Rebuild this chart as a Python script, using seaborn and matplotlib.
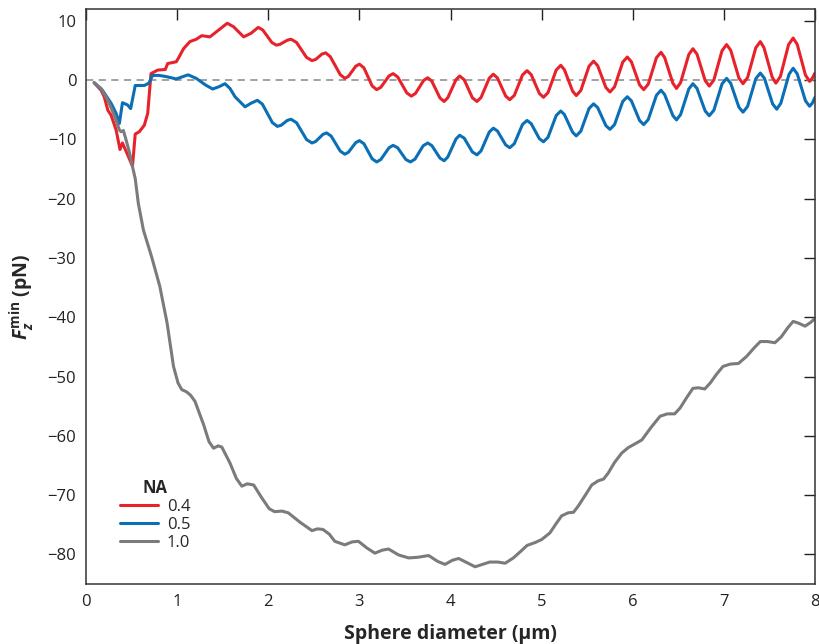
import matplotlib
matplotlib.use("Agg")
import matplotlib.pyplot as plt
import seaborn as sns
import pandas as pd

# ---- data ----
na_labels = ["0.4", "0.5", "1.0"]
colors = ["#e8222b", "#0b6fb5", "#7b7b7d"]

red_x = [0.09, 0.165, 0.20, 0.24, 0.275, 0.33, 0.373, 0.40, 0.457, 0.51, 0.54, 0.585, 0.64, 0.677, 0.695, 0.713,
         0.787, 0.87, 0.896, 0.99, 1.01, 1.07, 1.14, 1.21, 1.27, 1.36, 1.45, 1.55, 1.62, 1.73, 1.81, 1.89,
         1.94, 1.99, 2.04, 2.09, 2.13, 2.17, 2.21, 2.25, 2.31, 2.365, 2.42, 2.48, 2.52, 2.555, 2.59,
         2.63, 2.68, 2.735, 2.79, 2.84, 2.88, 2.92, 2.96, 3.00, 3.05, 3.095, 3.14, 3.19, 3.235, 3.28, 3.325,
         3.37, 3.42, 3.47, 3.52, 3.57, 3.615, 3.66, 3.705, 3.75, 3.795, 3.84, 3.885, 3.93, 3.97, 4.015, 4.06,
         4.10, 4.15, 4.195, 4.24, 4.29, 4.335, 4.38, 4.425, 4.47, 4.515, 4.56, 4.605, 4.65, 4.70, 4.745, 4.79,
         4.84, 4.885, 4.93, 4.975, 5.02, 5.07, 5.115, 5.16, 5.21, 5.25, 5.295, 5.34, 5.38, 5.43, 5.475, 5.52,
         5.57, 5.615, 5.66, 5.705, 5.75, 5.80, 5.845, 5.89, 5.94, 5.985, 6.03, 6.075, 6.12, 6.17, 6.215, 6.26,
         6.31, 6.35, 6.395, 6.44, 6.48, 6.525, 6.57, 6.615, 6.66, 6.705, 6.75, 6.795, 6.84, 6.89, 6.935, 6.98,
         7.03, 7.075, 7.12, 7.165, 7.21, 7.26, 7.305, 7.35, 7.40, 7.44, 7.485, 7.53, 7.57, 7.62, 7.665, 7.71,
         7.76, 7.805, 7.85, 7.895, 7.94, 7.97, 8.00]
red_y = [-0.45, -1.7, -2.8, -5.1, -5.9, -8.4, -11.7, -10.6, -12.6, -14.5, -9.1, -8.7, -7.6, -5.6, -2.2, 1.1,
         1.7, 1.8, 2.8, 3.1, 3.6, 5.3, 6.5, 6.9, 7.5, 7.3, 8.4, 9.6, 9.0, 7.3, 7.9, 8.9,
         8.46, 7.4, 6.34, 5.9, 6.05, 6.4, 6.75, 6.9, 6.37, 5.1, 3.83, 3.3, 3.49, 3.95, 4.41,
         4.6, 3.97, 2.45, 0.93, 0.3, 0.65, 1.5, 2.35, 2.7, 2.07, 0.55, -0.97, -1.6, -1.21, -0.25, 0.71,
         1.1, 0.55, -0.8, -2.15, -2.7, -2.25, -1.15, -0.05, 0.4, -0.18, -1.6, -3.02, -3.6, -2.97, -1.45, 0.07,
         0.7, 0.07, -1.45, -2.97, -3.6, -2.93, -1.3, 0.33, 1.0, 0.37, -1.15, -2.67, -3.3, -2.58, -0.85, 0.88,
         1.6, 0.94, -0.65, -2.24, -2.9, -2.11, -0.2, 1.71, 2.5, 1.76, -0.05, -1.86, -2.6, -1.75, 0.3, 2.35,
         3.2, 2.44, 0.6, -1.24, -2.0, -1.14, 0.95, 3.04, 3.9, 3.1, 1.15, -0.8, -1.6, -0.68, 1.55, 3.78,
         4.7, 3.81, 1.65, -0.51, -1.4, -0.42, 1.95, 4.32, 5.3, 4.38, 2.15, -0.08, -1.0, 0.02, 2.5, 4.98,
         6.0, 5.04, 2.7, 0.36, -0.6, 0.44, 2.95, 5.46, 6.5, 5.48, 3.0, 0.52, -0.5, 0.61, 3.3, 5.99,
         7.1, 6.03, 3.45, 0.87, -0.2, 0.3, 1.2]

blue_x = [0.09, 0.18, 0.275, 0.33, 0.366, 0.40, 0.457, 0.49, 0.54, 0.64, 0.69, 0.73, 0.80, 0.88, 0.99,
          1.12, 1.21, 1.31, 1.39, 1.46, 1.525, 1.58, 1.635, 1.745, 1.81, 1.88,
          1.935, 1.99, 2.045, 2.10, 2.14, 2.175, 2.21, 2.25, 2.31, 2.365, 2.42, 2.48, 2.52, 2.56, 2.60,
          2.64, 2.69, 2.74, 2.79, 2.84, 2.88, 2.92, 2.96, 3.00, 3.05, 3.095, 3.14, 3.19, 3.235, 3.28, 3.325,
          3.37, 3.42, 3.465, 3.51, 3.56, 3.61, 3.655, 3.70, 3.75, 3.795, 3.84, 3.885, 3.93, 3.97, 4.015, 4.06,
          4.10, 4.15, 4.195, 4.24, 4.29, 4.335, 4.38, 4.425, 4.47, 4.515, 4.56, 4.605, 4.65, 4.70, 4.745, 4.79,
          4.84, 4.885, 4.93, 4.975, 5.02, 5.07, 5.115, 5.16, 5.21, 5.25, 5.295, 5.34, 5.38, 5.43, 5.475, 5.52,
          5.57, 5.615, 5.66, 5.705, 5.75, 5.80, 5.845, 5.89, 5.94, 5.985, 6.03, 6.075, 6.12, 6.17, 6.215, 6.26,
          6.31, 6.35, 6.395, 6.44, 6.48, 6.525, 6.57, 6.615, 6.66, 6.705, 6.75, 6.795, 6.84, 6.89, 6.935, 6.98,
          7.03, 7.075, 7.12, 7.165, 7.21, 7.26, 7.305, 7.35, 7.40, 7.445, 7.49, 7.535, 7.58, 7.625, 7.67, 7.715,
          7.76, 7.805, 7.85, 7.895, 7.94, 7.97, 8.00]
blue_y = [-0.45, -1.7, -3.9, -5.6, -7.3, -3.8, -4.2, -4.8, -0.9, -0.9, -0.5, 0.8, 0.8, 0.6, 0.2,
          0.9, 0.3, -0.8, -1.5, -1.1, -0.6, -1.4, -2.8, -4.5, -3.9, -3.4,
          -4.04, -5.6, -7.16, -7.8, -7.62, -7.2, -6.78, -6.6, -7.18, -8.6, -10.02, -10.6, -10.35, -9.75, -9.15,
          -8.9, -9.43, -10.7, -11.97, -12.5, -12.16, -11.35, -10.54, -10.2, -10.73, -12.0, -13.27, -13.8, -13.39, -12.4, -11.41,
          -11.0, -11.41, -12.4, -13.39, -13.8, -13.33, -12.2, -11.07, -10.6, -11.04, -12.1, -13.16, -13.6, -12.97, -11.45, -9.93,
          -9.3, -9.78, -10.95, -12.12, -12.6, -11.94, -10.35, -8.76, -8.1, -8.58, -9.75, -10.92, -11.4, -10.73, -9.1, -7.47,
          -6.8, -7.33, -8.6, -9.87, -10.4, -9.64, -7.8, -5.96, -5.2, -5.81, -7.3, -8.79, -9.4, -8.61, -6.7, -4.79,
          -4.0, -4.63, -6.15, -7.67, -8.3, -7.5, -5.55, -3.6, -2.8, -3.49, -5.15, -6.81, -7.5, -6.65, -4.6, -2.55,
          -1.7, -2.43, -4.2, -5.97, -6.7, -5.81, -3.65, -1.49, -0.6, -1.39, -3.3, -5.21, -6.0, -5.08, -2.85, -0.62,
          0.3, -0.53, -2.55, -4.57, -5.4, -4.44, -2.1, 0.24, 1.2, 0.31, -1.85, -4.01, -4.9, -3.89, -1.45, 0.99,
          2.0, 1.07, -1.2, -3.47, -4.4, -3.9, -2.9]

gray_x = [0.09, 0.165, 0.24, 0.31, 0.366, 0.384, 0.41, 0.44, 0.475, 0.51, 0.54, 0.574, 0.63, 0.72, 0.81, 0.89,
          0.96, 1.01, 1.05, 1.105, 1.15, 1.196, 1.29, 1.35, 1.40, 1.45, 1.49, 1.58, 1.65, 1.71, 1.77, 1.84,
          1.93, 2.01, 2.07, 2.15, 2.22, 2.35, 2.48, 2.54, 2.60, 2.67, 2.73, 2.84, 2.92, 2.99, 3.08, 3.17,
          3.25, 3.32, 3.43, 3.54, 3.64, 3.76, 3.86, 3.94, 4.02, 4.09, 4.18, 4.27, 4.35, 4.43, 4.52, 4.60,
          4.69, 4.77, 4.84, 4.93, 5.00, 5.09, 5.16, 5.22, 5.29, 5.35, 5.40, 5.48, 5.55, 5.62, 5.68, 5.73,
          5.80, 5.88, 5.95, 6.02, 6.10, 6.20, 6.30, 6.38, 6.46, 6.52, 6.59, 6.66, 6.72, 6.79, 6.85, 6.92,
          6.99, 7.07, 7.16, 7.25, 7.33, 7.40, 7.48, 7.56, 7.63, 7.70, 7.76, 7.82, 7.89, 7.95, 8.00]
gray_y = [-0.45, -1.4, -3.4, -5.9, -8.4, -8.7, -8.5, -10.1, -12.1, -14.6, -16.6, -20.8, -25.3, -29.8, -34.8, -41.0,
          -48.3, -51.1, -52.2, -52.6, -53.2, -54.2, -58.1, -61.0, -62.1, -61.7, -61.9, -64.6, -67.2, -68.5, -68.1, -68.3,
          -70.5, -72.3, -72.8, -72.7, -73.0, -74.6, -76.0, -75.7, -75.8, -76.6, -77.8, -78.4, -77.9, -77.8, -78.9, -79.8,
          -79.3, -79.1, -80.1, -80.6, -80.5, -80.2, -81.2, -81.7, -81.0, -80.7, -81.4, -82.1, -81.7, -81.3, -81.3, -81.5,
          -80.6, -79.5, -78.5, -78.0, -77.5, -76.4, -74.8, -73.5, -73.0, -72.9, -71.9, -70.0, -68.3, -67.6, -67.3, -66.3,
          -64.5, -62.9, -62.0, -61.4, -60.7, -58.6, -56.7, -56.3, -56.3, -55.3, -53.6, -52.0, -51.9, -52.1, -51.1, -49.6,
          -48.3, -47.9, -47.8, -46.6, -45.2, -44.1, -44.1, -44.3, -43.3, -41.8, -40.7, -41.0, -41.5, -40.9, -40.2]

x_ticks = [0, 1, 2, 3, 4, 5, 6, 7, 8]
y_ticks = [10, 0, -10, -20, -30, -40, -50, -60, -70, -80]

# ---- build long table ----
frames = []
for lab, xs, ys in zip(na_labels, [red_x, blue_x, gray_x], [red_y, blue_y, gray_y]):
    frames.append(pd.DataFrame({"d": xs, "F": ys, "NA": lab}))
df = pd.concat(frames, ignore_index=True)

sns.set_theme(style="white")
plt.rcParams["font.family"] = ["Open Sans", "DejaVu Sans"]
plt.rcParams["mathtext.fontset"] = "custom"
plt.rcParams["mathtext.rm"] = "Open Sans:bold"
plt.rcParams["mathtext.it"] = "Open Sans:bold:italic"
plt.rcParams["mathtext.bf"] = "Open Sans:bold"

fig = plt.figure(figsize=(8.2, 6.44), dpi=100)
ax = fig.add_axes([0.1049, 0.0932, 0.8890, 0.8928])

ax.axhline(0, color="#9a9a9a", lw=1.3, ls=(0, (4, 3)), zorder=1)

sns.lineplot(data=df, x="d", y="F", hue="NA", hue_order=na_labels,
             palette=dict(zip(na_labels, colors)), sort=False, estimator=None,
             linewidth=2.2, ax=ax, legend=True)
for ln in ax.get_lines():
    ln.set_solid_joinstyle("round")
    ln.set_solid_capstyle("round")

ax.set_xlim(0, 8)
ax.set_ylim(-85, 12)
ax.set_xticks(x_ticks)
ax.set_yticks(y_ticks)
ax.set_yticklabels([str(v).replace("-", "\u2212") for v in y_ticks])
ax.tick_params(direction="in", length=8, width=1, top=True, right=True,
               labelsize=12, colors="#222222", pad=7)
for s in ax.spines.values():
    s.set_color("#333333")
    s.set_linewidth(1.1)

ax.set_xlabel("Sphere diameter (\u00b5m)", fontsize=14, fontweight="bold", labelpad=10)
ax.set_ylabel(r"$F_z^{\mathrm{min}}$ (pN)", fontsize=14, fontweight="bold", labelpad=8)

handles, labels = ax.get_legend_handles_labels()
leg = ax.legend(handles, labels, title="NA", loc="lower left", bbox_to_anchor=(0.026, 0.032),
                frameon=False, fontsize=12, title_fontproperties={"weight": "bold", "size": 12},
                handlelength=2.3, handletextpad=0.5, labelspacing=0.12)
leg._legend_box.align = "center"

fig.savefig("out.png", dpi=100)
